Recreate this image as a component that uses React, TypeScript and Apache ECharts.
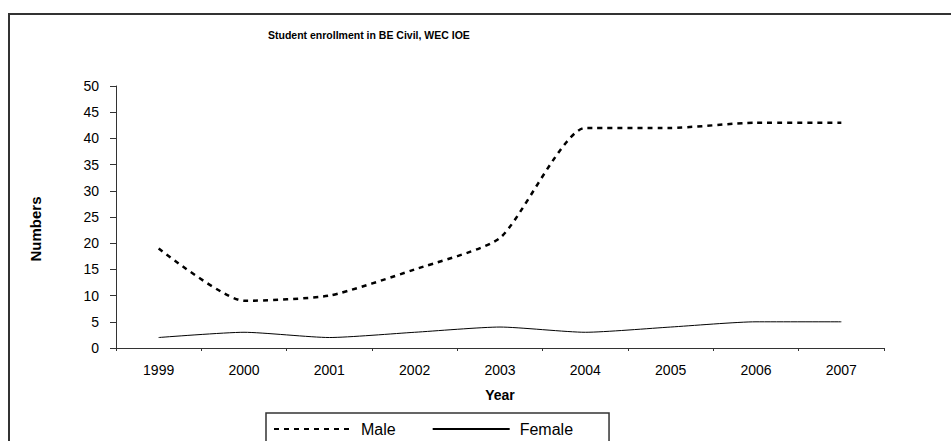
import React, { useEffect, useRef } from "react";
import * as echarts from "echarts";

const titleText = "Student enrollment in BE Civil, WEC IOE";
const years = ["1999", "2000", "2001", "2002", "2003", "2004", "2005", "2006", "2007"];
const maleValues = [19, 9, 10, 15, 21, 42, 42, 43, 43];
const femaleValues = [2, 3, 2, 3, 4, 3, 4, 5, 5];
const yAxisTitle = "Numbers";
const xAxisTitle = "Year";

const FONT = "'Liberation Sans', Arial, sans-serif";

export default function App() {
  const ref = useRef<HTMLDivElement>(null);
  useEffect(() => {
    if (!ref.current) return;
    const chart = echarts.init(ref.current, undefined, { renderer: "svg" });
    chart.setOption({
      animation: false,
      backgroundColor: "#ffffff",
      textStyle: { fontFamily: FONT },
      grid: { left: 116, right: 67, top: 86, bottom: 93, containLabel: false },
      graphic: [
        {
          type: "rect",
          shape: { x: 9, y: 14, width: 980, height: 500 },
          style: { fill: "none", stroke: "#333333", lineWidth: 2 },
          silent: true,
        },
        {
          type: "text",
          x: 268,
          y: 35,
          style: {
            text: titleText,
            font: `bold 10.5px ${FONT}`,
            fill: "#000000",
            verticalAlign: "middle",
          },
        },
        {
          type: "text",
          x: 35,
          y: 229,
          rotation: Math.PI / 2,
          style: {
            text: yAxisTitle,
            font: `bold 15px ${FONT}`,
            fill: "#000000",
            align: "center",
            verticalAlign: "middle",
          },
        },
      ],
      legend: {
        left: 266,
        top: 413,
        padding: [8, 36, 20, 7],
        itemGap: 36,
        itemWidth: 77,
        itemHeight: 14,
        borderColor: "#333333",
        borderWidth: 1.5,
        itemStyle: { opacity: 0 },
        textStyle: { fontSize: 16, color: "#000000", fontFamily: FONT, padding: [0, 0, 0, 5] },
        data: ["Male", "Female"],
      },
      xAxis: {
        type: "category",
        data: years,
        boundaryGap: true,
        name: xAxisTitle,
        nameLocation: "middle",
        nameGap: 40,
        nameTextStyle: { fontWeight: "bold", fontSize: 14, color: "#000000", fontFamily: FONT },
        axisLine: { lineStyle: { color: "#333333", width: 1 } },
        axisTick: { show: true, alignWithLabel: false, length: 3, lineStyle: { color: "#333333" } },
        axisLabel: { color: "#000000", fontSize: 14, margin: 15, fontFamily: FONT },
        splitLine: { show: false },
      },
      yAxis: {
        type: "value",
        min: 0,
        max: 50,
        interval: 5,
        axisLine: { show: true, lineStyle: { color: "#333333", width: 1 } },
        axisTick: { show: true, length: 6, lineStyle: { color: "#333333" } },
        axisLabel: { color: "#000000", fontSize: 14, margin: 17, fontFamily: FONT },
        splitLine: { show: false },
      },
      series: [
        {
          name: "Male",
          type: "line",
          data: maleValues,
          smooth: 0.2,
          symbol: "none",
          lineStyle: { color: "#000000", width: 2.5, type: [5, 5] },
          itemStyle: { color: "#000000" },
        },
        {
          name: "Female",
          type: "line",
          data: femaleValues,
          smooth: 0.2,
          symbol: "none",
          lineStyle: { color: "#000000", width: 1 },
          itemStyle: { color: "#000000" },
        },
      ],
    });
    return () => chart.dispose();
  }, []);
  return (
    <div
      ref={ref}
      style={{ position: "fixed", left: 0, top: 0, width: 951, height: 441, background: "#fff" }}
    />
  );
}
